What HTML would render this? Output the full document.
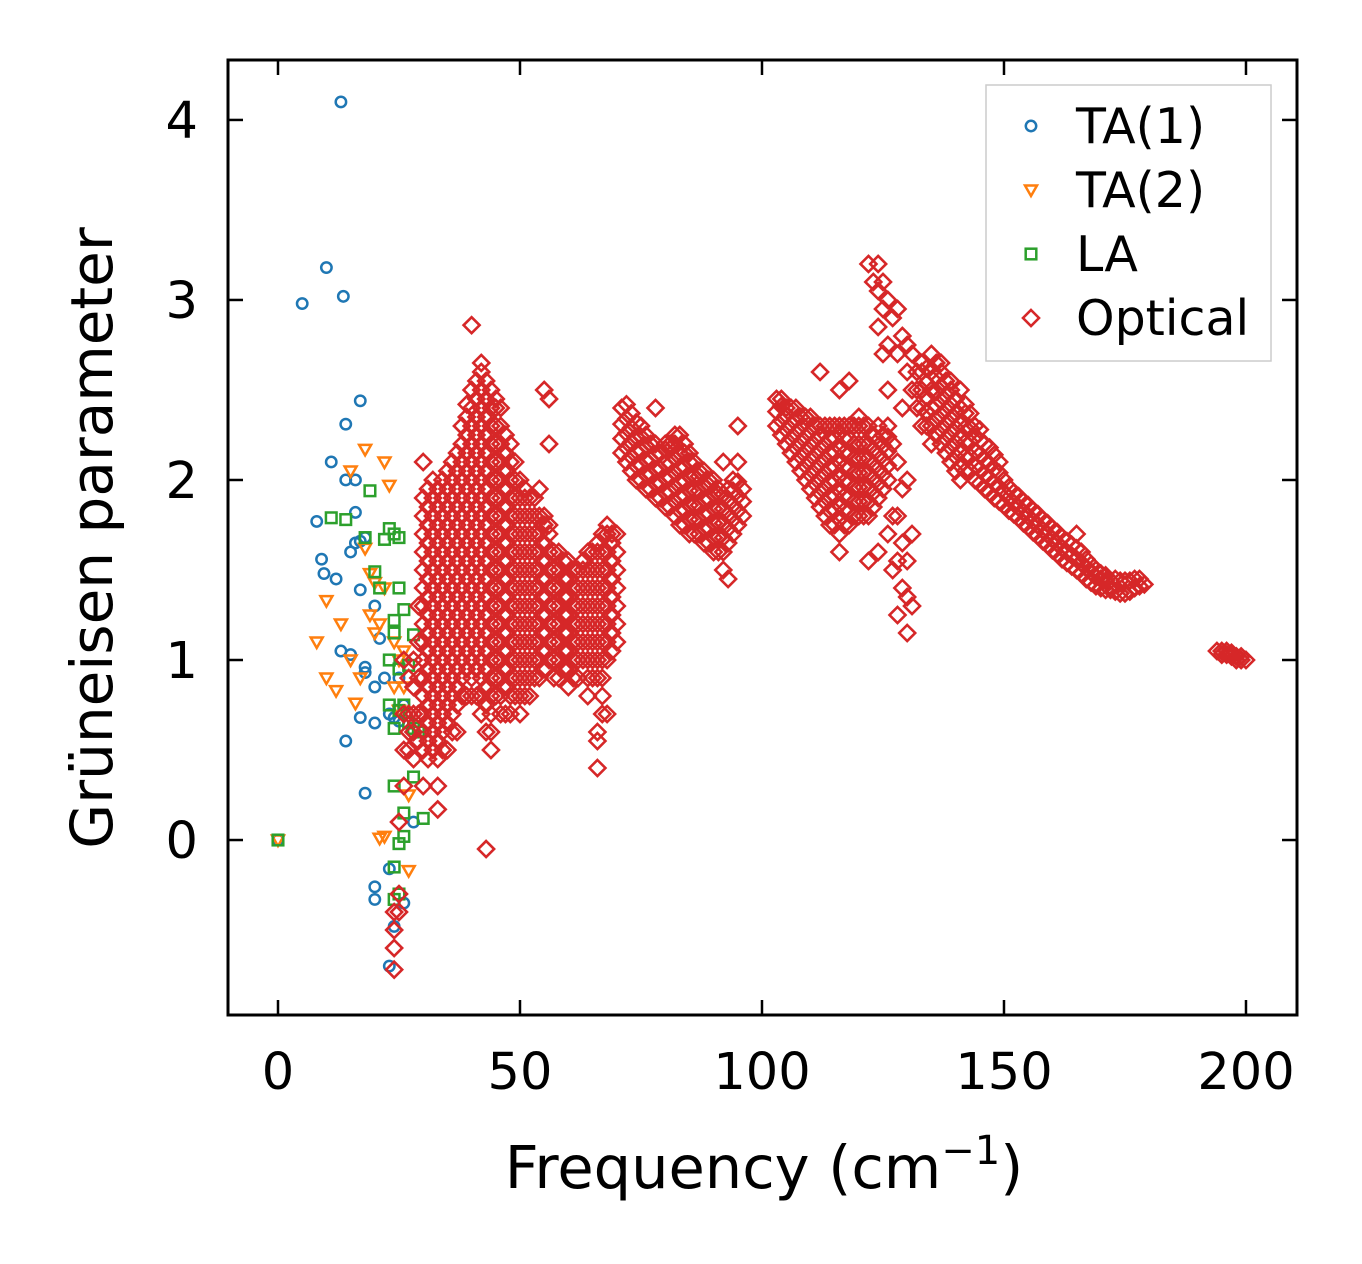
<!DOCTYPE html>
<html><head><meta charset="utf-8"><style>
body{margin:0;background:#fff}
svg{display:block}
text{font-family:"DejaVu Sans","Liberation Sans",sans-serif;fill:#000}
</style></head><body>
<svg id="chart" width="1362" height="1264" xmlns="http://www.w3.org/2000/svg"></svg>
<script>
const xTicks=[0,50,100,150,200];
const yTicks=[0,1,2,3,4];
const ta1=[[0,0],[5,2.98],[10,3.18],[13,4.1],[13.5,3.02],[8,1.77],[9,1.56],[9.5,1.48],[11,2.1],[12,1.45],[14,2.31],[14,2.0],[16,2.0],[17,2.44],[16,1.82],[15,1.6],[16,1.65],[17,1.66],[18,1.68],[17,1.39],[20,1.3],[21,1.12],[18,0.96],[18,0.93],[20,0.85],[22,0.9],[23,0.7],[24,0.68],[25,0.66],[17,0.68],[20,0.65],[14,0.55],[18,0.26],[13,1.05],[15,1.03],[20,-0.26],[20,-0.33],[23,-0.16],[23,-0.7],[24,-0.48],[26,-0.35],[25,0.9],[28,0.1],[26,0.75]];
const ta2=[[0,0],[8,1.1],[10,0.9],[10,1.33],[12,0.83],[13,1.2],[15,2.05],[15,1.0],[16,0.76],[17,0.9],[18,2.17],[18,1.62],[19,1.25],[19,1.48],[20,1.15],[20,1.43],[21,1.2],[22,1.4],[22,2.1],[23,1.97],[21,0.01],[22,0.02],[24,1.1],[25,1.0],[26,0.85],[26,1.05],[27,-0.17],[27,0.25],[24,0.85],[25,0.72]];
const la=[[0,0],[11,1.79],[14,1.78],[18,1.68],[19,1.94],[20,1.49],[21,1.4],[22,1.67],[23,1.73],[24,1.7],[25,1.68],[24,1.22],[25,1.4],[26,1.28],[23,1.0],[24,1.15],[25,0.95],[26,0.75],[27,0.97],[28,1.14],[23,0.75],[24,0.62],[25,0.72],[27,0.65],[28,0.62],[29,0.6],[28,0.35],[30,0.12],[24,0.3],[26,0.15],[26,0.02],[25,-0.02],[24,-0.15],[25,-0.3],[24,-0.33]];
const optical=[
[24,[-0.72,-0.6,-0.5,-0.4]],[25,[-0.4,-0.3,0.1]],[26,[0.3,0.5,0.7,1.0]],[27,[0.5,0.6,0.7,0.9]],[28,[0.45,0.6,0.7,0.85,1.0]],[29,[0.55,0.7,0.9,1.1,1.3]],
[30,[0.3,0.5,0.6,0.7,0.8,0.9,1.0,1.1,1.2,1.3,1.4,1.5,1.6,1.7,1.8,1.9,2.1]],
[31,[0.45,0.55,0.65,0.75,0.85,0.95,1.05,1.15,1.25,1.35,1.45,1.55,1.65,1.75,1.85,1.95]],
[32,[0.5,0.6,0.7,0.8,0.9,1.0,1.1,1.2,1.3,1.4,1.5,1.6,1.7,1.8,1.9,2.0]],
[33,[0.17,0.3,0.45,0.55,0.65,0.75,0.85,0.95,1.05,1.15,1.25,1.35,1.45,1.55,1.65,1.75,1.85,1.95]],
[34,[0.5,0.6,0.7,0.8,0.9,1.0,1.1,1.2,1.3,1.4,1.5,1.6,1.7,1.8,1.9,2.0]],
[35,[0.5,0.65,0.75,0.85,0.95,1.05,1.15,1.25,1.35,1.45,1.55,1.65,1.75,1.85,1.95,2.05]],
[36,[0.6,0.7,0.8,0.9,1.0,1.1,1.2,1.3,1.4,1.5,1.6,1.7,1.8,1.9,2.0,2.1]],
[37,[0.6,0.75,0.85,0.95,1.05,1.15,1.25,1.35,1.45,1.55,1.65,1.75,1.85,1.95,2.05,2.15]],
[38,[0.8,0.9,1.0,1.1,1.2,1.3,1.4,1.5,1.6,1.7,1.8,1.9,2.0,2.1,2.2,2.3]],
[39,[0.8,0.95,1.05,1.15,1.25,1.35,1.45,1.55,1.65,1.75,1.85,1.95,2.05,2.15,2.25,2.35,2.42]],
[40,[0.8,0.9,1.0,1.1,1.2,1.3,1.4,1.5,1.6,1.7,1.8,1.9,2.0,2.1,2.2,2.3,2.4,2.5,2.86]],
[41,[0.8,0.95,1.05,1.15,1.25,1.35,1.45,1.55,1.65,1.75,1.85,1.95,2.05,2.15,2.25,2.35,2.45,2.55]],
[42,[0.7,0.8,0.9,1.0,1.1,1.2,1.3,1.4,1.5,1.6,1.7,1.8,1.9,2.0,2.1,2.2,2.3,2.4,2.5,2.6,2.65]],
[43,[-0.05,0.6,0.75,0.85,0.95,1.05,1.15,1.25,1.35,1.45,1.55,1.65,1.75,1.85,1.95,2.05,2.15,2.25,2.35,2.45,2.55]],
[44,[0.5,0.6,0.7,0.8,0.9,1.0,1.1,1.2,1.3,1.4,1.5,1.6,1.7,1.8,1.9,2.0,2.1,2.2,2.3,2.4,2.5]],
[45,[0.8,0.9,1.0,1.1,1.2,1.3,1.4,1.5,1.6,1.7,1.8,1.9,2.0,2.1,2.2,2.3,2.4,2.45]],
[46,[0.7,0.8,0.9,1.0,1.1,1.2,1.3,1.4,1.5,1.6,1.7,1.8,1.9,2.0,2.1,2.2,2.3,2.4]],
[47,[0.7,0.85,0.95,1.05,1.15,1.25,1.35,1.45,1.55,1.65,1.75,1.85,1.95,2.05,2.15,2.25]],
[48,[0.7,0.8,0.9,1.0,1.1,1.2,1.3,1.4,1.5,1.6,1.7,1.8,1.9,2.0,2.1,2.2]],
[49,[0.8,0.9,1.0,1.1,1.2,1.3,1.4,1.5,1.6,1.7,1.8,1.9,2.0,2.1]],
[50,[0.7,0.8,0.9,1.0,1.1,1.2,1.3,1.4,1.5,1.6,1.7,1.8,1.9,2.0]],
[51,[0.8,0.9,1.0,1.1,1.2,1.3,1.4,1.5,1.6,1.7,1.8,1.9,1.95]],
[52,[0.8,0.9,1.0,1.1,1.2,1.3,1.4,1.5,1.6,1.7,1.8,1.9]],
[53,[0.9,1.0,1.1,1.2,1.3,1.4,1.5,1.6,1.7,1.8,1.9]],
[54,[0.9,1.0,1.1,1.2,1.3,1.4,1.5,1.6,1.7,1.8,1.95]],
[55,[0.95,1.05,1.15,1.25,1.35,1.45,1.55,1.65,1.75,1.8,2.5]],
[56,[1.0,1.1,1.2,1.3,1.4,1.5,1.6,1.7,1.75,2.2,2.45]],
[57,[0.9,1.0,1.1,1.2,1.3,1.4,1.5,1.6]],
[58,[0.9,1.0,1.1,1.2,1.3,1.4,1.5,1.6]],
[59,[0.95,1.05,1.15,1.25,1.35,1.45,1.55]],
[60,[0.85,0.95,1.05,1.15,1.25,1.35,1.45,1.55]],
[61,[0.9,1.0,1.1,1.2,1.3,1.4,1.5]],
[62,[0.9,1.0,1.1,1.2,1.3,1.4,1.5]],
[63,[1.0,1.1,1.2,1.3,1.4,1.5,1.55]],
[64,[0.8,0.9,1.0,1.1,1.2,1.3,1.4,1.5,1.6]],
[65,[0.9,1.0,1.1,1.2,1.3,1.4,1.5,1.6]],
[66,[0.4,0.55,0.6,0.9,1.0,1.1,1.2,1.3,1.4,1.5,1.6,1.65]],
[67,[0.7,0.8,0.9,1.0,1.1,1.2,1.3,1.4,1.5,1.6,1.7]],
[68,[0.7,1.0,1.1,1.2,1.3,1.4,1.5,1.6,1.7,1.75]],
[69,[1.05,1.15,1.25,1.35,1.45,1.55,1.65,1.7]],
[70,[1.1,1.2,1.3,1.4,1.5,1.6,1.7]],
[71,[2.15,2.23,2.31,2.4]],[72,[2.1,2.18,2.26,2.34,2.42]],[73,[2.05,2.13,2.21,2.29,2.37]],
[74,[2.0,2.08,2.16,2.24,2.32]],[75,[2.0,2.08,2.16,2.24,2.3]],[76,[1.95,2.03,2.11,2.19,2.25]],
[77,[1.95,2.03,2.11,2.2]],[78,[1.9,1.98,2.06,2.14,2.2,2.4]],[79,[1.9,1.98,2.06,2.15]],
[80,[1.85,1.93,2.01,2.09,2.17,2.2]],[81,[1.85,1.93,2.01,2.09,2.17,2.2]],[82,[1.8,1.88,1.96,2.04,2.12,2.2,2.25]],
[83,[1.75,1.83,1.91,1.99,2.07,2.15,2.25]],[84,[1.75,1.83,1.91,1.99,2.07,2.15,2.2]],[85,[1.7,1.78,1.86,1.94,2.02,2.1,2.15]],
[86,[1.7,1.78,1.86,1.94,2.02,2.1]],[87,[1.7,1.78,1.86,1.94,2.02,2.05]],[88,[1.65,1.73,1.81,1.89,1.97,2.05]],
[89,[1.65,1.73,1.81,1.89,1.97,2.0]],[90,[1.6,1.68,1.76,1.84,1.92,2.0]],[91,[1.6,1.68,1.76,1.84,1.92,1.95]],
[92,[1.5,1.6,1.68,1.76,1.84,1.92,2.1]],[93,[1.45,1.65,1.73,1.81,1.89,1.95]],[94,[1.7,1.78,1.86,1.94,2.0]],
[95,[1.75,1.83,1.91,1.99,2.1,2.3]],[96,[1.8,1.88,1.95]],
[103,[2.3,2.38,2.45]],[104,[2.25,2.33,2.41,2.45]],[105,[2.2,2.28,2.36,2.4]],[106,[2.15,2.23,2.31,2.4]],
[107,[2.1,2.18,2.26,2.34,2.4]],[108,[2.05,2.13,2.21,2.29,2.35]],[109,[2.0,2.08,2.16,2.24,2.32,2.35]],
[110,[1.95,2.03,2.11,2.19,2.27,2.35]],[111,[1.9,1.98,2.06,2.14,2.22,2.3]],[112,[1.85,1.93,2.01,2.09,2.17,2.25,2.3,2.6]],
[113,[1.8,1.88,1.96,2.04,2.12,2.2,2.3]],[114,[1.75,1.83,1.91,1.99,2.07,2.15,2.23,2.3]],[115,[1.75,1.83,1.91,1.99,2.07,2.15,2.23,2.3]],
[116,[1.6,1.7,1.78,1.86,1.94,2.02,2.1,2.18,2.26,2.3,2.5]],[117,[1.75,1.83,1.91,1.99,2.07,2.15,2.23,2.3]],
[118,[1.75,1.83,1.91,1.99,2.07,2.15,2.23,2.3,2.55]],[119,[1.8,1.88,1.96,2.04,2.12,2.2,2.3]],
[120,[1.8,1.88,1.96,2.04,2.12,2.2,2.3,2.35]],[121,[1.8,1.88,1.96,2.04,2.12,2.2,2.3]],
[122,[1.55,1.8,1.88,1.96,2.04,2.12,2.2,2.3,3.2]],[123,[1.85,1.93,2.01,2.09,2.17,2.25,3.1]],
[124,[1.6,1.9,1.98,2.06,2.14,2.22,2.3,2.85,3.05,3.2]],[125,[1.95,2.03,2.11,2.19,2.25,2.7,2.95,3.1]],
[126,[1.7,2.0,2.08,2.16,2.24,2.3,2.5,2.75,3.0]],[127,[1.5,1.8,2.2,2.9]],
[128,[1.25,1.55,1.8,2.1,2.7,2.95]],[129,[1.4,1.65,1.95,2.4,2.8]],
[130,[1.15,1.35,1.55,2.0,2.6,2.75]],[131,[1.3,1.7,2.5,2.7]],[132,[2.4,2.5,2.6]],
[133,[2.3,2.4,2.5,2.6,2.65]],[134,[2.3,2.38,2.46,2.54,2.62]],[135,[2.2,2.3,2.4,2.5,2.6,2.7]],[136,[2.25,2.33,2.41,2.49,2.57,2.65]],
[137,[2.2,2.28,2.36,2.44,2.52,2.6,2.65]],[138,[2.15,2.23,2.31,2.39,2.47,2.55]],[139,[2.1,2.18,2.26,2.34,2.42,2.5,2.55]],[140,[2.05,2.13,2.21,2.29,2.37,2.45]],
[141,[2.0,2.08,2.16,2.24,2.32,2.4,2.5]],[142,[2.05,2.13,2.21,2.29,2.37,2.42]],[143,[2.05,2.13,2.21,2.29,2.37]],[144,[2.0,2.08,2.16,2.24,2.3]],
[145,[1.98,2.06,2.14,2.22,2.28]],[146,[1.95,2.03,2.11,2.2]],[147,[1.93,2.01,2.09,2.18]],[148,[1.9,1.98,2.06,2.14]],
[149,[1.88,1.96,2.04,2.1]],[150,[1.86,1.93,2.0]],[151,[1.83,1.9,1.96]],[152,[1.81,1.87,1.93]],[153,[1.79,1.85,1.91]],
[154,[1.76,1.82,1.88]],[155,[1.74,1.8,1.86]],[156,[1.71,1.77,1.83]],[157,[1.69,1.75,1.81]],[158,[1.66,1.72,1.78]],
[159,[1.64,1.7,1.76]],[160,[1.61,1.67,1.73]],[161,[1.59,1.65,1.71]],[162,[1.56,1.62,1.68]],[163,[1.54,1.6,1.66]],
[164,[1.52,1.58,1.64]],[165,[1.5,1.56,1.62,1.7]],[166,[1.48,1.54,1.6]],[167,[1.45,1.51,1.56]],[168,[1.43,1.49,1.53]],
[169,[1.41,1.46,1.5]],[170,[1.4,1.45,1.48]],[171,[1.39,1.44,1.47]],[172,[1.39,1.44]],[173,[1.38,1.45]],
[174,[1.37,1.44]],[175,[1.37,1.44]],[176,[1.38,1.44]],[177,[1.4,1.45]],[178,[1.41,1.45]],[179,[1.42]],
[194,[1.05]],[195,[1.05,1.03]],[196,[1.03,1.05]],[197,[1.02,1.04]],[198,[1.02,1.0]],[199,[1.0,1.02]],[200,[1.0]]
];
const legendLabels=["TA(1)","TA(2)","LA","Optical"];

const NS="http://www.w3.org/2000/svg";
const svg=document.getElementById('chart');
const L=228,R=1297,T=60,B=1015;
const xMin=-10.33,xMax=210.54,yMin=-0.972,yMax=4.333;
const sx=v=>L+(v-xMin)/(xMax-xMin)*(R-L);
const sy=v=>B-(v-yMin)/(yMax-yMin)*(B-T);
function mk(tag,attrs,parent){const e=document.createElementNS(NS,tag);for(const k in attrs)e.setAttribute(k,attrs[k]);(parent||svg).appendChild(e);return e;}
const C={ta1:"#1f77b4",ta2:"#ff7f0e",la:"#2ca02c",op:"#d62728"};
function marker(type,x,y,g){
  let e;
  if(type==='ta1') e=mk('circle',{cx:x,cy:y,r:5.2,fill:'none',stroke:C.ta1,'stroke-width':2.5},g);
  else if(type==='ta2') e=mk('path',{d:`M${x-6},${y-4.5}L${x+6},${y-4.5}L${x},${y+6}Z`,fill:'none',stroke:C.ta2,'stroke-width':2.5},g);
  else if(type==='la') e=mk('rect',{x:x-5.3,y:y-5.3,width:10.6,height:10.6,fill:'none',stroke:C.la,'stroke-width':2.5},g);
  else e=mk('path',{d:`M${x},${y-8}L${x+8},${y}L${x},${y+8}L${x-8},${y}Z`,fill:'none',stroke:C.op,'stroke-width':2.6},g);
  return e;
}
const clip=mk('clipPath',{id:'pc'});mk('rect',{x:L,y:T,width:R-L,height:B-T},clip);
function series(name,type,pts){
  const g=mk('g',{'clip-path':'url(#pc)'});
  
  
  pts.forEach(p=>{const m=marker(type,sx(p[0]),sy(p[1]),g);
    
    });
}
series('ta1-series','ta1',ta1);
series('ta2-series','ta2',ta2);
series('la-series','la',la);
const opPts=[];optical.forEach(c=>c[1].forEach(y=>opPts.push([c[0],y])));
series('optical-series','op',opPts);

const frame=mk('rect',{x:L,y:T,width:R-L,height:B-T,fill:'none',stroke:'#000','stroke-width':3});


xTicks.forEach(v=>{const x=sx(v);
  mk('line',{x1:x,y1:B,x2:x,y2:B-15,stroke:'#000','stroke-width':2.5});
  mk('line',{x1:x,y1:T,x2:x,y2:T+15,stroke:'#000','stroke-width':2.5});
  const t=mk('text',{x:x,y:B+74,'text-anchor':'middle','font-size':51});t.textContent=v;
  
  
});
yTicks.forEach(v=>{const y=sy(v);
  mk('line',{x1:L,y1:y,x2:L+15,y2:y,stroke:'#000','stroke-width':2.5});
  mk('line',{x1:R,y1:y,x2:R-15,y2:y,stroke:'#000','stroke-width':2.5});
  const t=mk('text',{x:L-30,y:y+18,'text-anchor':'end','font-size':51});t.textContent=v;
  
  
});
const xt=mk('text',{x:764,y:1188,'text-anchor':'middle','font-size':59});
xt.innerHTML='Frequency (cm<tspan dy="-24" font-size="40">−1</tspan><tspan dy="24">)</tspan>';


const yt=mk('text',{x:0,y:0,'text-anchor':'middle','font-size':58,transform:'translate(112,538) rotate(-90)'});
yt.textContent='Grüneisen parameter';



const lg=mk('g',{});


mk('rect',{x:986,y:85,width:285,height:276,fill:'#fff',stroke:'#ccc','stroke-width':1.5},lg);
const types=['ta1','ta2','la','op'];
legendLabels.forEach((lab,i)=>{const y=126+i*64;
  const e=mk('g',{},lg);
  
  
  marker(types[i],1031,y,e);
  const t=mk('text',{x:1076,y:y+17,'font-size':49},e);t.textContent=lab;
});
</script>
</body></html>
